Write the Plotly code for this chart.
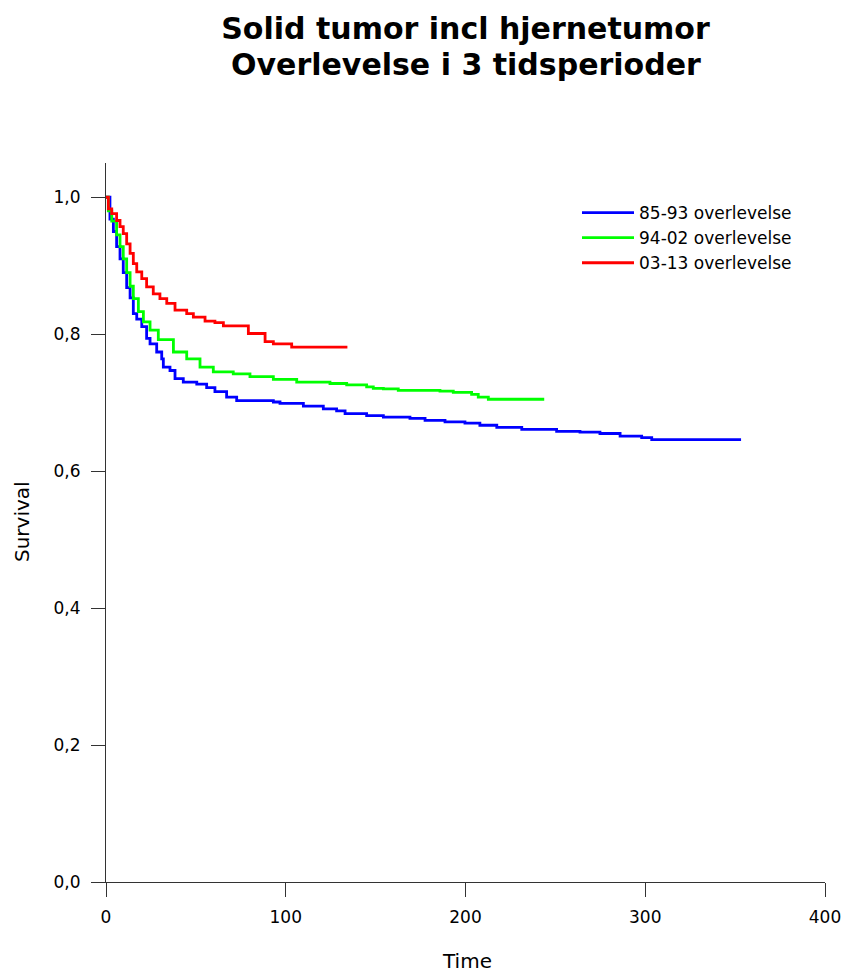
import plotly.graph_objects as go

# 85-93 overlevelse
t_8593 = [0, 2.2, 4.1, 5.9, 7.8, 9.6, 11.5, 13.4, 15.2, 17.1, 19.9, 22.6, 24.5, 28.2, 31, 31.9, 35.6,
          38.4, 43, 50.5, 56, 60.6, 67.1, 72.7, 93.1, 96.8, 109.8, 120.9, 128.3, 133, 145, 154.3,
          169.1, 177.5, 188.6, 199.7, 208, 217.4, 231.3, 250.7, 263.7, 274.8, 286, 298, 303.6, 353.3]
s_8593 = [1.0, 0.968, 0.950, 0.928, 0.910, 0.890, 0.868, 0.853, 0.830, 0.822, 0.811, 0.794, 0.786,
          0.774, 0.764, 0.752, 0.747, 0.735, 0.730, 0.727, 0.722, 0.716, 0.708, 0.703, 0.701, 0.699,
          0.695, 0.691, 0.688, 0.684, 0.681, 0.679, 0.677, 0.674, 0.672, 0.670, 0.667, 0.664, 0.661,
          0.658, 0.657, 0.655, 0.651, 0.649, 0.646, 0.646]

# 94-02 overlevelse
t_9402 = [0, 1.3, 3.2, 5.9, 7.8, 9.6, 11.5, 13.4, 15.2, 18, 20.8, 24.5, 29.1, 37.5, 44.9, 52.3, 59.7,
          70.8, 80.1, 93.1, 106.1, 124.6, 133.9, 145, 148.7, 154.3, 162.6, 185.8, 193.2, 203.4,
          207.1, 212.7, 243.8]
s_9402 = [1.0, 0.98, 0.965, 0.945, 0.928, 0.910, 0.890, 0.870, 0.852, 0.833, 0.818, 0.806, 0.792,
          0.774, 0.764, 0.752, 0.745, 0.742, 0.738, 0.734, 0.730, 0.728, 0.726, 0.723, 0.721, 0.720,
          0.718, 0.717, 0.715, 0.712, 0.708, 0.705, 0.705]

# 03-13 overlevelse
t_0313 = [0, 1.3, 3.2, 5.9, 7.8, 9.6, 11.5, 13.4, 15.2, 17.1, 19.9, 22.6, 26.3, 30, 33.8, 38.4, 44.9,
          48.6, 55.1, 60.6, 65.3, 79.2, 88.5, 93.1, 103.3, 134.3]
s_0313 = [1.0, 0.983, 0.976, 0.966, 0.957, 0.947, 0.932, 0.918, 0.903, 0.891, 0.881, 0.869, 0.859,
          0.852, 0.845, 0.835, 0.830, 0.825, 0.819, 0.817, 0.812, 0.801, 0.789, 0.786, 0.781, 0.781]

series = [
    ("85-93 overlevelse", t_8593, s_8593, "#0000ff"),
    ("94-02 overlevelse", t_9402, s_9402, "#00ff00"),
    ("03-13 overlevelse", t_0313, s_0313, "#ff0000"),
]

title_lines = ["Solid tumor incl hjernetumor", "Overlevelse i 3 tidsperioder"]
x_title = "Time"
y_title = "Survival"
x_ticks = [0, 100, 200, 300, 400]
y_ticks = [0.0, 0.2, 0.4, 0.6, 0.8, 1.0]
y_ticktext = ["0,0", "0,2", "0,4", "0,6", "0,8", "1,0"]

FONT = "DejaVu Sans, Liberation Sans, Arial, sans-serif"
W, H = 845, 972
ML, MR, MT, MB = 106, 20, 163, 90
PH = H - MT - MB
PW = W - ML - MR


def px_x(p):
    return (p - ML) / PW


def px_y(p):
    return (H - MB - p) / PH


fig = go.Figure()
for name, t, s, c in series:
    fig.add_trace(go.Scatter(x=t, y=s, mode="lines", name=name,
                             line=dict(color=c, width=2.8, shape="hv")))

fig.update_layout(
    width=W, height=H,
    paper_bgcolor="white", plot_bgcolor="white",
    margin=dict(l=ML, r=MR, t=MT, b=MB, autoexpand=False),
    font=dict(family=FONT, size=17, color="black"),
    title=dict(text="<b>" + title_lines[0] + "</b>",
               x=0.5, xref="paper", xanchor="center",
               y=1 - 28 / H, yref="container", yanchor="middle",
               font=dict(family=FONT, size=30, color="black")),
    annotations=[
        dict(text="<b>" + title_lines[1] + "</b>", xref="paper", yref="paper",
             x=0.5, xanchor="center", y=px_y(64), yanchor="middle",
             showarrow=False, font=dict(family=FONT, size=30, color="black")),
        dict(text=x_title, xref="paper", yref="paper", x=px_x(467), y=px_y(961),
             xanchor="center", yanchor="middle", showarrow=False, font=dict(size=20)),
        dict(text=y_title, xref="paper", yref="paper", x=px_x(22), y=px_y(522),
             xanchor="center", yanchor="middle", textangle=-90, showarrow=False,
             font=dict(size=20)),
    ],
    showlegend=True,
    legend=dict(x=px_x(577), y=px_y(195), xanchor="left", yanchor="top",
                bgcolor="rgba(0,0,0,0)", font=dict(size=17), tracegroupgap=0,
                itemwidth=52),
    xaxis=dict(range=[0, 400], tickvals=x_ticks, ticktext=[str(v) for v in x_ticks],
               showgrid=False, zeroline=False, showline=True, linecolor="#333333", linewidth=1,
               ticks="outside", ticklen=14, tickcolor="#333333", ticklabelstandoff=6,
               automargin=False),
    yaxis=dict(range=[0, 1.05], tickvals=y_ticks, ticktext=y_ticktext,
               showgrid=False, zeroline=False, showline=True, linecolor="#333333", linewidth=1,
               ticks="outside", ticklen=14, tickcolor="#333333", ticklabelstandoff=7,
               automargin=False),
)

fig.write_html("out.html")
